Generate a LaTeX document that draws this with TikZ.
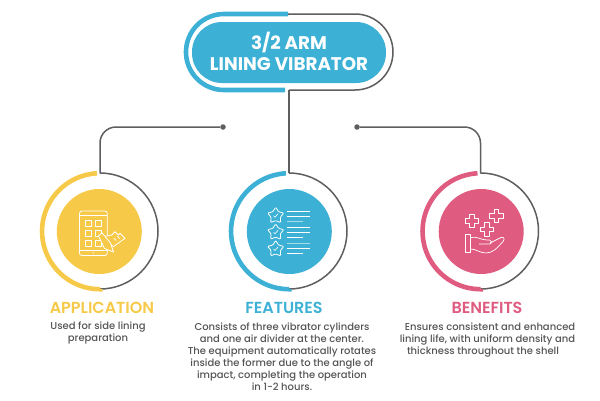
\documentclass[tikz,border=0pt]{standalone}
\usepackage{fontspec}
\setmainfont{Poppins}
\newfontfamily\medfont{Poppins Medium}
\newfontfamily\semifont{Poppins SemiBold}
\usetikzlibrary{shapes.geometric}
\definecolor{vibblue}{HTML}{3DB1D5}
\definecolor{vibyellow}{HTML}{F7C948}
\definecolor{vibpink}{HTML}{DF5B80}
\definecolor{wiregray}{HTML}{5E5E5E}
\definecolor{bodygray}{HTML}{555555}
\tikzset{
wire/.style={draw=wiregray,line width=1.5pt},
band/.style={line width=4.6pt},
dot/.style={circle,fill=wiregray,inner sep=0pt,minimum size=5.5pt},
disc/.style={circle,inner sep=0pt,minimum size=85pt},
icon/.style={draw=white,line width=0.8pt,line join=round},
heading/.style={font=\semifont\fontsize{16}{16}\selectfont},
body/.style={font=\medfont\fontsize{10}{12}\selectfont,text=bodygray,align=center}
}
\begin{document}
\begin{tikzpicture}[x=1pt,y=-1pt]
\useasboundingbox (0,0) rectangle (600,400);
\node [dot] (dotL) at (223,127) {};
\node [dot] (dotR) at (357,127) {};
\coordinate (appTop) at (100,173);
\coordinate (feaTop) at (289,173);
\coordinate (benTop) at (480.5,173);
\coordinate (pillBot) at (289,90);
\draw [wire,rounded corners=16pt] (dotL) -| (appTop);
\draw [wire,rounded corners=16pt] (dotR) -| (benTop);
\draw [wire] (pillBot) -- (feaTop);
\draw [band,draw=vibblue] (288,14) -- (224,14) arc (-90:-270:38) -- (285,90);
\draw [wire] (288,14) -- (355,14) arc (-90:90:38) -- (pillBot);
\node [fill=vibblue,rounded corners=30pt,minimum width=194pt,minimum height=61pt,inner sep=0pt] (pill) at (289,52.5) {};
\node [text=white,align=center,font=\bfseries\fontsize{18.3}{21}\selectfont] (title) at (289,51.5) {3/2 ARM\\LINING VIBRATOR};
\draw [wire] (appTop) arc (-90:90:58) coordinate (appBot);
\draw [band,draw=vibyellow] (97,173.3) arc (-93:-270:58) -- (appBot);
\node [disc,fill=vibyellow] (appDisc) at (99.3,231.5) {};
\draw [wire] (feaTop) arc (-90:90:58) coordinate (feaBot);
\draw [band,draw=vibblue] (286,173.3) arc (-93:-270:58) -- (feaBot);
\node [disc,fill=vibblue] (feaDisc) at (289.3,231.5) {};
\draw [wire] (benTop) arc (-90:90:58) coordinate (benBot);
\draw [band,draw=vibpink] (477.5,173.3) arc (-93:-270:58) -- (benBot);
\node [disc,fill=vibpink] (benDisc) at (481.2,231.5) {};
\draw [icon,rounded corners=2.5pt] (79.5,211) rectangle (107.3,255.5);
\draw [icon] (79.5,215) -- (107.3,215) (79.5,250) -- (107.3,250);
\fill [white] (93.4,252.8) circle (0.7pt);
\foreach \xp in {85.7,95.7} \foreach \yp in {220.7,230,240}
  \draw [icon] (\xp,\yp) rectangle ++(6,6);
\draw [icon,fill=vibyellow] (103.3,236.7) -- (111.7,235) -- (115,231.7) -- (118.3,235) -- (120,233.3) -- (125,238.3) -- (113.3,246.7) -- cycle;
\draw [icon] (114,238) -- (116,240.5) (117.5,236) -- (119.5,238.5);
\draw [icon,fill=vibyellow] (113.5,252) -- (104.5,248.5) -- (98.5,236) -- (102,232.8) -- (110.5,243) -- cycle;
\foreach \yp in {215.7,232.3,249}
  \node [star,star points=5,star point ratio=1.75,icon,inner sep=0pt,minimum size=17pt,rounded corners=1pt] at (275.7,\yp) {};
\foreach \yp in {215.7,232.3,249}
  \draw [icon,line width=0.6pt] (273.5,\yp) -- (275,\yp+1.5) -- (278,\yp-2);
\foreach \yp/\xe/\op in {211.7/310/1,216.3/310/1,221/303.3/0.55,227.7/310/1,232.3/310/1,237.3/303.3/1,243.3/310/0.55,248.3/310/1,253.3/303.3/1}
  \draw [icon,draw opacity=\op] (286.7,\yp) -- (\xe,\yp);
\foreach \xp/\yp in {471.7/221,496.5/215.7,486.7/229.5}
  \draw [icon,line width=0.7pt,shift={(\xp,\yp)}] (-2.3,-6.7) -- (2.3,-6.7) -- (2.3,-2.3) -- (6.7,-2.3) -- (6.7,2.3) -- (2.3,2.3) -- (2.3,6.7) -- (-2.3,6.7) -- (-2.3,2.3) -- (-6.7,2.3) -- (-6.7,-2.3) -- (-2.3,-2.3) -- cycle;
\draw [icon,line width=0.7pt] (465.7,234.3) rectangle (470.7,252);
\draw [icon,line width=0.7pt] (470.7,237.5) .. controls (477,236) and (481,240) .. (487,240) -- (489.5,240) .. controls (492,240) and (492.5,243.5) .. (489.5,244) -- (479,244) (490,243) -- (501,237.5) .. controls (504,236.5) and (505,239) .. (503,241.5) .. controls (497,248) and (493,253) .. (486,253) .. controls (480,253) and (476,249) .. (470.7,249);
\node [heading,text=vibyellow] (appHead) at (102,308) {APPLICATION};
\node [heading,text=vibblue] (feaHead) at (284,308) {FEATURES};
\node [heading,text=vibpink] (benHead) at (487,308) {BENEFITS};
\node [body] (appText) at (98,333) {Used for side lining\\preparation};
\node [body] (feaText) at (282,357) {Consists of three vibrator cylinders\\and one air divider at the center.\\The equipment automatically rotates\\inside the former due to the angle of\\impact, completing the operation\\in 1-2 hours.};
\node [body] (benText) at (487.5,340) {\hspace*{5pt}Ensures consistent and enhanced\\lining life, with uniform density and\\thickness throughout the shell\hspace*{9pt}};
\end{tikzpicture}
\end{document}
